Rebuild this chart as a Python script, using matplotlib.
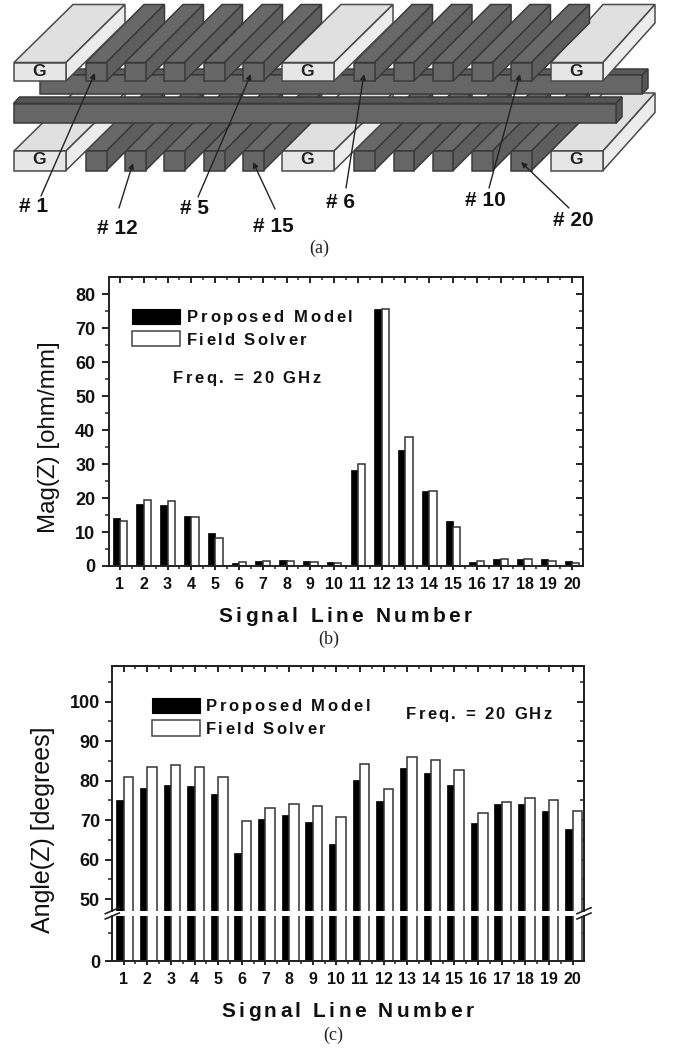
import matplotlib
matplotlib.use("Agg")
import matplotlib.pyplot as plt
from matplotlib.patches import Polygon, Rectangle
from matplotlib.text import Text
from matplotlib.ticker import FixedLocator, NullFormatter
from matplotlib.transforms import Bbox, IdentityTransform

plt.rcParams['font.family'] = ['Liberation Sans', 'DejaVu Sans']

W, H = 673, 1048

# ---- data ----
line_numbers = list(range(1, 21))
mag_model = [14, 18.2, 18, 14.7, 9.8, 1, 1.5, 1.8, 1.5, 1.2,
             28.4, 75.7, 34.2, 22, 13.2, 1.3, 2, 2, 2, 1.5]
mag_solver = [13.2, 19.3, 19, 14.4, 8.2, 1.2, 1.5, 1.5, 1.1, 1.0,
              30, 75.7, 37.9, 22.2, 11.5, 1.5, 2.1, 2.1, 1.5, 1.0]
ang_model = [75, 78.2, 79, 78.7, 76.5, 61.6, 70.4, 71.2, 69.5, 64,
             80.2, 74.8, 83.1, 81.9, 79, 69.3, 74.1, 74.1, 72.4, 67.8]
ang_solver = [81, 83.5, 84, 83.5, 81, 69.7, 73, 74, 73.5, 70.9,
              84.2, 78, 85.9, 85.2, 82.8, 71.7, 74.7, 75.6, 75, 72.4]
series_names = ['Proposed Model', 'Field Solver']
freq_label = 'Freq. = 20 GHz'
x_title = 'Signal Line Number'

# schematic (a): x of the left edge of each front face, and depth of each ground bar
g_x = [14, 282, 551]
g_depth = [59, 59, 52]
sig_x = [86, 125, 164, 204, 243, 354, 393.5, 432.6, 472, 511]
callouts = [('# 1', 33.5, 207, 41, 196, 95, 73), ('# 12', 117.5, 228, 119, 208, 133, 163),
            ('# 5', 195, 208, 198, 197, 251, 74), ('# 15', 273, 226, 275, 209, 253, 162),
            ('# 6', 340, 202, 346, 188, 364, 74), ('# 10', 485, 201, 489, 188, 520, 74),
            ('# 20', 573.5, 220, 569, 208, 521, 162)]


class TrackedText(Text):
    """One text artist whose letters are spread to fill a given pixel width."""
    def __init__(self, *args, target_width=None, **kwargs):
        super().__init__(*args, **kwargs)
        self._target = target_width

    def _advances(self, renderer):
        prop = self.get_fontproperties()
        m = lambda s: renderer.get_text_width_height_descent(s, prop, False)[0]
        base = m('xx')
        return [m('x' + c + 'x') - base for c in self.get_text()]

    def draw(self, renderer):
        if not self.get_visible():
            return
        adv = self._advances(renderer)
        n = len(adv)
        extra = (self._target - sum(adv)) / (n - 1)
        x, y = self.get_transform().transform(self.get_position())
        for c, a in zip(self.get_text(), adv):
            if c != ' ':
                t = Text(x, y, c, fontproperties=self.get_fontproperties(),
                         color=self.get_color(), ha='left', va='baseline',
                         transform=IdentityTransform())
                t.set_figure(self.get_figure())
                t.draw(renderer)
            x += a + extra

    def get_window_extent(self, renderer=None, dpi=None):
        x, y = self.get_transform().transform(self.get_position())
        size = self.get_fontsize() * 100 / 72
        return Bbox([[x, y - 0.2 * size], [x + self._target, y + 0.75 * size]])


fig = plt.figure(figsize=(W / 100, H / 100), dpi=100, facecolor='white')


def box(x0, y0, x1, y1):
    return [x0 / W, 1 - y1 / H, (x1 - x0) / W, (y1 - y0) / H]


ov = fig.add_axes([0, 0, 1, 1], zorder=5)
ov.set_xlim(0, W)
ov.set_ylim(H, 0)
ov.axis('off')
ov.patch.set_alpha(0)


def tracked(x, x1, y, s, size):
    t = TrackedText(x, y, s, target_width=x1 - x, fontsize=size, fontweight='bold',
                    color='#111111', ha='left', va='baseline', transform=ov.transData)
    ov.add_artist(t)
    return t


# ---- schematic (a) ----
DY = -58
EDGE_D = '#3a3a3a'
EDGE_L = '#4a4a4a'


def bar3d(x0, x1, y0, y1, front, top, side, edge, dx, dy=DY):
    lw = 1.1
    ov.add_patch(Polygon([(x0, y0), (x0 + dx, y0 + dy), (x1 + dx, y0 + dy), (x1, y0)],
                         fc=top, ec=edge, lw=lw))
    ov.add_patch(Polygon([(x1, y0), (x1 + dx, y0 + dy), (x1 + dx, y1 + dy), (x1, y1)],
                         fc=side, ec=edge, lw=lw))
    ov.add_patch(Polygon([(x0, y0), (x1, y0), (x1, y1), (x0, y1)],
                         fc=front, ec=edge, lw=lw))


def row(y0, y1, letter_y):
    # painted right to left so that nearer sides overlap correctly
    items = [(x, 'g', d) for x, d in zip(g_x, g_depth)] + [(x, 's', 58) for x in sig_x]
    for x, kind, d in sorted(items, reverse=True):
        if kind == 'g':
            bar3d(x, x + 52, y0, y1, '#e6e6e6', '#e0e0e0', '#ececec', EDGE_L, d)
            ov.text(x + 25, letter_y, 'G', fontsize=12.5, fontweight='bold',
                    ha='center', va='center', color='#222222')
        else:
            bar3d(x, x + 20.5, y0, y1, '#666666', '#686868', '#5e5e5e', EDGE_D, d)


row(151, 170.5, 160)
bar3d(39.5, 642, 75, 94, '#666666', '#5a5a5a', '#555555', EDGE_D, 6, -6)
row(62.5, 81, 71)
bar3d(13.5, 616, 103.5, 123.3, '#666666', '#555555', '#555555', EDGE_D, 6, -6.5)

for label, tx, ty, x0, y0, x1, y1 in callouts:
    ov.text(tx, ty, label, fontsize=15, fontweight='bold', ha='center', va='center',
            color='#111111')
    ov.annotate('', xy=(x1, y1), xytext=(x0, y0),
                arrowprops=dict(arrowstyle='-|>', lw=1.0, color='#222222',
                                shrinkA=0, shrinkB=0, mutation_scale=8))

for label, x, y in [('(a)', 319, 248), ('(b)', 329, 639), ('(c)', 333, 1035)]:
    ov.text(x, y, label, fontsize=13, family='Liberation Serif', ha='center',
            va='center', color='#222222')

SP = '#222222'
LW = 1.4
MAJ_LONG, MIN_LONG = 5.4, 2.8
MAJ_X, MIN_X = 3.2, 1.8


def style_x(ax, xs):
    ax.set_xlim(*xs)
    ax.set_xticks(line_numbers)
    ax.xaxis.set_minor_locator(FixedLocator([v + .5 for v in line_numbers[:-1]]))
    ax.tick_params(axis='x', which='major', direction='out', length=MAJ_X, width=LW,
                   color=SP, pad=5, labelsize=11.5, labelcolor='#111111')
    ax.tick_params(axis='x', which='minor', direction='out', length=MIN_X, width=1.1, color=SP)
    for t in ax.get_xticklabels():
        t.set_fontweight('bold')


def style_y(ax, major, minor, size_pad=4.5):
    ax.yaxis.set_major_locator(FixedLocator(major))
    ax.yaxis.set_minor_locator(FixedLocator(minor))
    ax.tick_params(axis='y', which='major', direction='out', length=MAJ_LONG, width=LW,
                   color=SP, pad=size_pad, labelsize=13, labelcolor='#111111')
    ax.tick_params(axis='y', which='minor', direction='out', length=MIN_LONG, width=1.1, color=SP)
    for t in ax.get_yticklabels():
        t.set_fontweight('bold')
    r = ax.secondary_yaxis('right')
    r.yaxis.set_major_locator(FixedLocator(major))
    r.yaxis.set_minor_locator(FixedLocator(minor))
    r.tick_params(axis='y', which='major', direction='in', length=MAJ_LONG, width=LW,
                  color=SP, labelright=False)
    r.tick_params(axis='y', which='minor', direction='in', length=MIN_LONG, width=1.1, color=SP)
    r.spines['right'].set_linewidth(LW)
    r.spines['right'].set_color(SP)


def style_top(ax):
    t = ax.secondary_xaxis('top')
    t.xaxis.set_major_locator(FixedLocator(line_numbers))
    t.xaxis.set_minor_locator(FixedLocator([v + .5 for v in line_numbers[:-1]]))
    t.tick_params(axis='x', which='major', direction='in', length=4, width=LW, color=SP,
                  labeltop=False)
    t.tick_params(axis='x', which='minor', direction='in', length=2, width=1.1, color=SP)
    t.xaxis.set_minor_formatter(NullFormatter())
    t.spines['top'].set_linewidth(LW)
    t.spines['top'].set_color(SP)


def spines(ax, hide=()):
    for k, s in ax.spines.items():
        s.set_linewidth(LW)
        s.set_color(SP)
        if k in hide:
            s.set_visible(False)


def draw_bars(ax, model, solver, w0, w1):
    ax.bar([v - w0 for v in line_numbers], model, w0, align='edge', color='black',
           edgecolor='black', linewidth=0.5)
    ax.bar(line_numbers, solver, w1, align='edge', color='white',
           edgecolor='#333333', linewidth=1.1)


def legend_block(x0, x1, y0a, y1a, y0b, y1b, tx0, tx1a, tx1b, base_a, base_b):
    ov.add_patch(Rectangle((x0, y0a), x1 - x0, y1a - y0a, fc='black', ec='black', lw=0.8))
    ov.add_patch(Rectangle((x0, y0b), x1 - x0, y1b - y0b, fc='white', ec='#444444', lw=1.1))
    tracked(tx0, tx1a, base_a, series_names[0], 12)
    tracked(tx0, tx1b, base_b, series_names[1], 12)


# ---- panel (b) ----
ab = fig.add_axes(box(109, 277, 583, 566))
draw_bars(ab, mag_model, mag_solver, 0.31, 0.31)
ab.set_ylim(0, 85.1)
style_x(ab, (0.54, 20.46))
style_y(ab, list(range(0, 90, 10)), list(range(5, 85, 10)))
style_top(ab)
spines(ab)
ov.text(49, 437, 'Mag(Z) [ohm/mm]', rotation=90, ha='center', va='center',
        fontsize=17.4, color='#111111')
legend_block(131.7, 180.3, 309, 324.3, 330.7, 346, 186.7, 352.7, 306, 322, 344.7)
tracked(173, 320.7, 382.7, freq_label, 12)
tracked(218, 471.7, 621.7, x_title, 15)

# ---- panel (c), broken axis ----
au = fig.add_axes(box(112.3, 666, 584, 910.7))
al = fig.add_axes(box(112.3, 916, 584, 961))
for a in (au, al):
    draw_bars(a, ang_model, ang_solver, 0.31, 0.40)
    style_x(a, (0.52, 20.48))
au.set_ylim(47.1, 109)
al.set_ylim(0, 16)
style_y(au, list(range(50, 110, 10)), list(range(55, 110, 10)), 3.5)
style_y(al, [0], [10], 3.5)
style_top(au)
spines(au, hide=('bottom',))
spines(al, hide=('top',))
au.tick_params(axis='x', which='both', bottom=False, labelbottom=False)
ov.text(42.7, 830, 'Angle(Z) [degrees]', rotation=90, ha='center', va='center',
        fontsize=18, color='#111111')
legend_block(151.7, 200, 697.7, 712.7, 720, 736, 205.7, 370, 325, 711, 734)
tracked(406, 551.7, 719, freq_label, 12)
tracked(221.7, 473.3, 1016.7, x_title, 15)

# axis-break marks
for xc in (112.3, 584):
    for yc in (910.7, 916):
        ov.plot([xc - 7, xc + 7], [yc + 3, yc - 3], color=SP, lw=1.2, clip_on=False)

fig.savefig('out.png', dpi=100, facecolor='white')
